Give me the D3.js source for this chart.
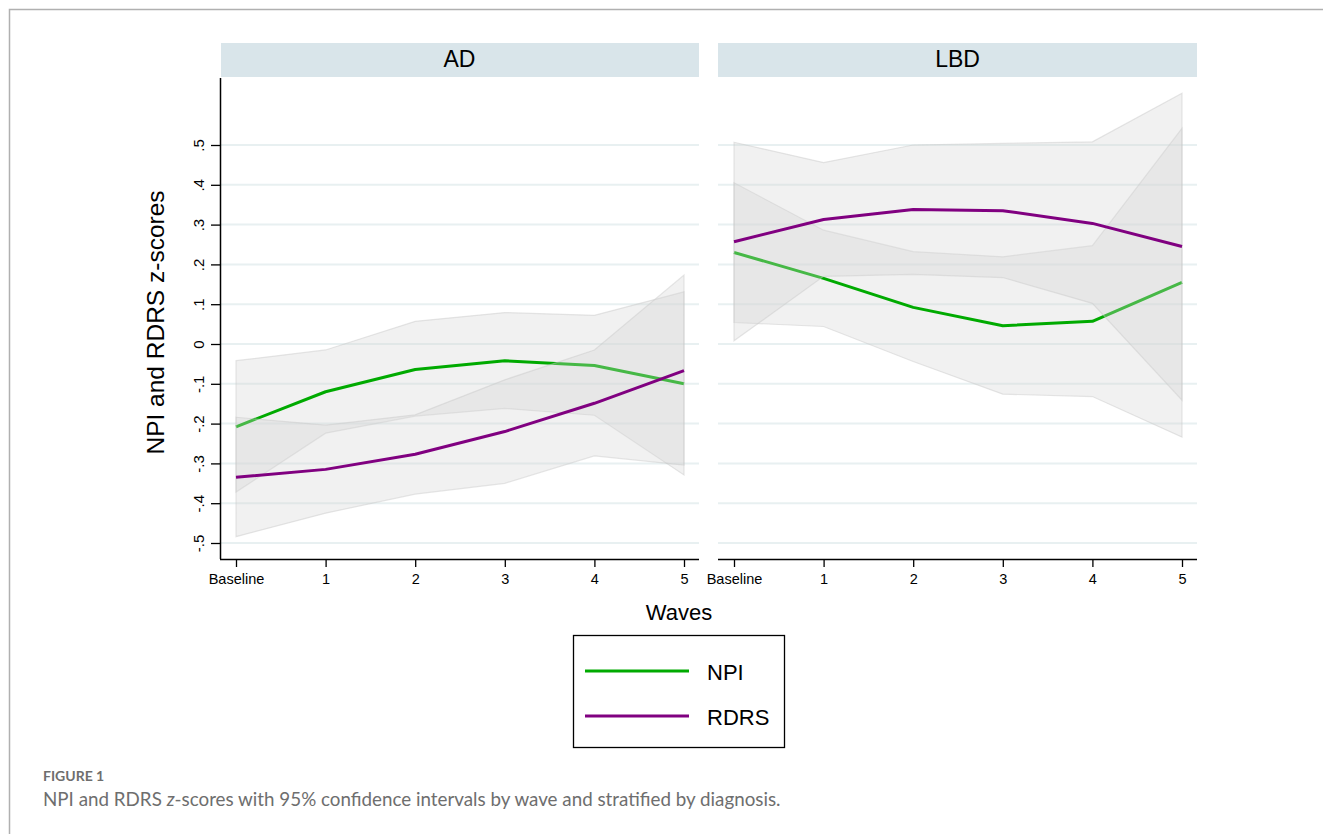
<!DOCTYPE html>
<html>
<head>
<meta charset="utf-8">
<title>NPI and RDRS z-scores</title>
<script src="https://cdn.jsdelivr.net/npm/d3@7"></script>
<style>
  body { margin: 0; background: #fff; }
  .chart text { font-family: 'Liberation Sans', Arial, sans-serif; fill: #000; }
  .chart text.caption { font-family: Lato, 'Open Sans', sans-serif; fill: #6e6e6e; }
</style>
</head>
<body>
<script>
// waves on the x axis and the two diagnosis panels
const waves = ["Baseline", "1", "2", "3", "4", "5"];
const panels = ["AD", "LBD"];
const yTicks = [-0.5, -0.4, -0.3, -0.2, -0.1, 0, 0.1, 0.2, 0.3, 0.4, 0.5];
const yTickLabels = ["-.5", "-.4", "-.3", "-.2", "-.1", "0", ".1", ".2", ".3", ".4", ".5"];

// AD: means and 95% CI bounds
const adNpi = [-0.208, -0.12, -0.064, -0.042, -0.054, -0.10];
const adNpiLo = [-0.372, -0.224, -0.181, -0.162, -0.179, -0.329];
const adNpiHi = [-0.042, -0.015, 0.057, 0.079, 0.072, 0.131];
const adRdrs = [-0.335, -0.315, -0.277, -0.22, -0.149, -0.067];
const adRdrsLo = [-0.484, -0.425, -0.377, -0.35, -0.281, -0.304];
const adRdrsHi = [-0.184, -0.204, -0.178, -0.09, -0.015, 0.173];

// LBD: means and 95% CI bounds
const lbdNpi = [0.230, 0.165, 0.092, 0.046, 0.057, 0.155];
const lbdNpiLo = [0.054, 0.044, -0.044, -0.126, -0.132, -0.234];
const lbdNpiHi = [0.405, 0.286, 0.232, 0.219, 0.247, 0.542];
const lbdRdrs = [0.257, 0.313, 0.338, 0.335, 0.303, 0.245];
const lbdRdrsLo = [0.008, 0.17, 0.175, 0.167, 0.102, -0.141];
const lbdRdrsHi = [0.507, 0.456, 0.5, 0.504, 0.508, 0.63];

const series = ["NPI", "RDRS"];
const colors = { NPI: "#00aa00", RDRS: "#800080" };

const panelData = {
  AD: { NPI: [adNpi, adNpiLo, adNpiHi], RDRS: [adRdrs, adRdrsLo, adRdrsHi] },
  LBD: { NPI: [lbdNpi, lbdNpiLo, lbdNpiHi], RDRS: [lbdRdrs, lbdRdrsLo, lbdRdrsHi] }
};

const W = 1323, H = 834;
const plotTop = 78, plotBottom = 559;
const panelX = { AD: [220, 699], LBD: [718, 1197] };

const svg = d3.select("body").append("svg")
  .attr("width", W).attr("height", H)
  .attr("class", "chart");

// figure frame (top and left rules)
svg.append("path")
  .attr("d", `M9.5,${H} V9.5 H${W}`)
  .attr("fill", "none").attr("stroke", "#b0b0b0").attr("stroke-width", 1.5);

const y = d3.scaleLinear().domain([-0.5, 0.5]).range([543, 145]);

panels.forEach(p => {
  const [x0, x1] = panelX[p];
  const x = d3.scalePoint().domain(waves).range([x0 + 16, x1 - 15]);
  const g = svg.append("g");

  // header strip
  g.append("rect")
    .attr("x", x0 + (p === "AD" ? 1 : 0)).attr("y", 43)
    .attr("width", x1 - x0 - (p === "AD" ? 1 : 0)).attr("height", 34)
    .attr("fill", "#d9e5ea");
  g.append("text")
    .attr("x", (x0 + x1) / 2).attr("y", 59)
    .attr("text-anchor", "middle").attr("dominant-baseline", "central")
    .style("font-size", "23px").text(p);

  // gridlines
  g.selectAll(".grid").data(yTicks).join("line")
    .attr("x1", x0).attr("x2", x1)
    .attr("y1", d => y(d)).attr("y2", d => y(d))
    .attr("stroke", "#e8f0f1").attr("stroke-width", 2);

  const area = d3.area()
    .x((d, i) => x(waves[i]))
    .y0(d => y(d[0]))
    .y1(d => y(d[1]));
  const line = d3.line()
    .x((d, i) => x(waves[i]))
    .y(d => y(d));

  series.forEach(s => {
    const [mean, lo, hi] = panelData[p][s];
    g.append("path")
      .attr("d", area(lo.map((v, i) => [v, hi[i]])) + "Z")
      .attr("fill", "rgb(212,212,212)").attr("fill-opacity", 0.33)
      .attr("stroke", "rgb(200,200,200)").attr("stroke-opacity", 0.45)
      .attr("stroke-width", 1.2);
    g.append("path")
      .attr("d", line(mean))
      .attr("fill", "none").attr("stroke", colors[s])
      .attr("stroke-width", 3).attr("stroke-linejoin", "round");
  });

  // x axis
  const xAxis = g.append("g")
    .attr("transform", `translate(0,${plotBottom})`)
    .call(d3.axisBottom(x).tickSize(8).tickPadding(7));
  xAxis.select(".domain").attr("d", `M${x0},0.5H${x1}`).attr("stroke", "#000").attr("stroke-width", 1.5);
  xAxis.selectAll(".tick line").attr("stroke", "#000").attr("stroke-width", 1.3);
  xAxis.selectAll(".tick text").style("font-size", "14.5px");

  // y axis only on the first panel
  if (p === "AD") {
    const yAxis = g.append("g")
      .attr("transform", `translate(${x0},0)`)
      .call(d3.axisLeft(y).tickValues(yTicks).tickFormat((d, i) => yTickLabels[i]).tickSize(9));
    yAxis.select(".domain").attr("d", `M0.5,${plotTop}V${plotBottom}`).attr("stroke", "#000").attr("stroke-width", 1.5);
    yAxis.selectAll(".tick line").attr("stroke", "#000").attr("stroke-width", 1.3);
    yAxis.selectAll(".tick text")
      .attr("x", null).attr("dy", null)
      .attr("text-anchor", "middle")
      .attr("transform", "translate(-16,0) rotate(-90)")
      .style("font-size", "15px");
  }
});

// axis titles
svg.append("text")
  .attr("transform", `translate(155,${(plotTop + plotBottom) / 2 + 4}) rotate(-90)`)
  .attr("text-anchor", "middle").attr("dominant-baseline", "central")
  .style("font-size", "24.5px").text("NPI and RDRS z-scores");
svg.append("text")
  .attr("x", 679).attr("y", 612)
  .attr("text-anchor", "middle").attr("dominant-baseline", "central")
  .style("font-size", "22px").text("Waves");

// legend
const lg = svg.append("g");
lg.append("rect")
  .attr("x", 573.5).attr("y", 635.5).attr("width", 211).attr("height", 112)
  .attr("fill", "#fff").attr("stroke", "#000").attr("stroke-width", 1.3);
series.forEach((s, i) => {
  const ly = 671 + i * 45;
  lg.append("line")
    .attr("x1", 585).attr("x2", 689).attr("y1", ly).attr("y2", ly)
    .attr("stroke", colors[s]).attr("stroke-width", 3);
  lg.append("text")
    .attr("x", 707).attr("y", ly + 1)
    .attr("dominant-baseline", "central")
    .style("font-size", "22px").text(s);
});

// caption
svg.append("text")
  .attr("class", "caption")
  .attr("x", 43).attr("y", 781)
  .style("font-size", "14px").style("font-weight", "bold")
  .text("FIGURE 1");
const cap = svg.append("text")
  .attr("class", "caption")
  .attr("x", 43).attr("y", 806)
  .style("font-size", "18.8px");
cap.append("tspan").text("NPI and RDRS ");
cap.append("tspan").style("font-style", "italic").text("z");
cap.append("tspan").text("-scores with 95% confidence intervals by wave and stratified by diagnosis.");
</script>
</body>
</html>
